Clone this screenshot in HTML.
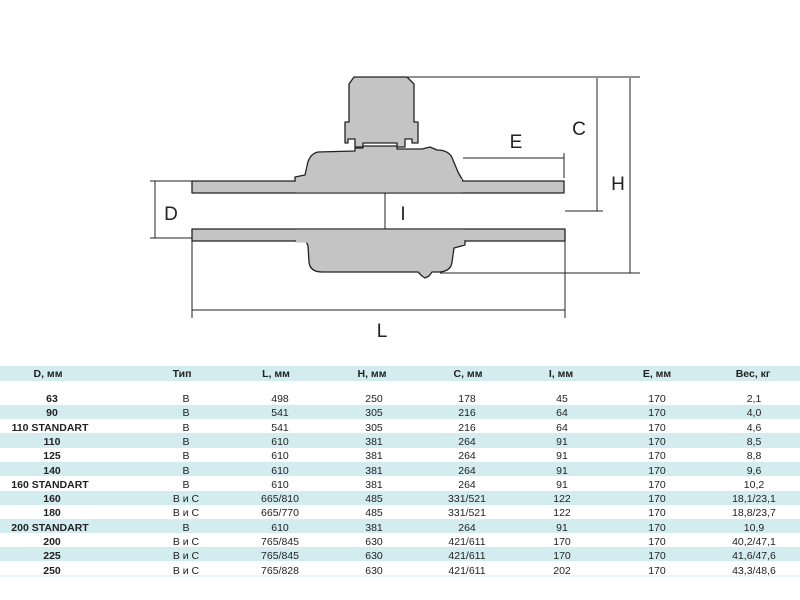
<!DOCTYPE html>
<html><head><meta charset="utf-8"><style>
html,body{margin:0;padding:0;background:#fff;width:800px;height:600px;overflow:hidden}
svg{display:block}
text{font-family:"Liberation Sans","DejaVu Sans",sans-serif}
.t{font-size:10.5px;fill:#222;text-anchor:middle}
.b{font-weight:bold}
</style></head><body>
<svg width="800" height="600" viewBox="0 0 800 600" xmlns="http://www.w3.org/2000/svg">
<g stroke="#222" stroke-width="1.3" fill="#c4c4c4" stroke-linejoin="round">
<!-- pipes -->
<rect x="192" y="181" width="372" height="12"/>
<rect x="192" y="229" width="373" height="12"/>
<!-- cap -->
<path d="M354,77 L407,77 L414,84 L414,122 L418,122 L418,143 L412,143 L412,139 L405,139 L405,147 L397,147 L397,143 L363,143 L363,147 L355,147 L355,139 L348,139 L348,143 L345,143 L345,122 L349,122 L349,84 Z"/>
<!-- upper body -->
<path d="M295,181 L295,177 L305,175 L307,166 Q309,154 318,152 L355,151 L355,148 L363,148 L363,146 L397,146 L397,149 L422,149 L430,147 L437,150 Q450,150 453,160 L458,172 L463,181"/>
<!-- lower body -->
<path d="M295,241 L306,241 L308,246 L309,262 Q310,272 322,272 L418,272 L422,276 L425,278 L429,276 L432,272 L440,272 Q451,271 452,262 L454,248 L465,245 L465,241"/>
</g>
<!-- cover pipe outer lines inside body -->
<rect x="296" y="179" width="166" height="13.5" fill="#c4c4c4"/>
<rect x="296" y="229.6" width="168" height="13" fill="#c4c4c4"/>
<g stroke="#222" stroke-width="1" fill="none">
<line x1="155" y1="181" x2="155" y2="238"/><line x1="150" y1="181" x2="192" y2="181"/><line x1="150" y1="238" x2="192" y2="238"/>
<line x1="385" y1="193" x2="385" y2="229"/>
<line x1="463" y1="158" x2="564" y2="158"/><line x1="564" y1="153" x2="564" y2="178"/>
<line x1="408" y1="77" x2="640" y2="77"/>
<line x1="597" y1="78" x2="597" y2="211"/><line x1="565" y1="211" x2="603" y2="211"/>
<line x1="630" y1="78" x2="630" y2="273"/><line x1="440" y1="273" x2="640" y2="273"/>
<line x1="192" y1="241" x2="192" y2="318"/><line x1="565" y1="241" x2="565" y2="318"/><line x1="192" y1="310" x2="565" y2="310"/>
</g>
<g font-size="19" fill="#222" text-anchor="middle" font-family="Liberation Sans">
<text x="171" y="220">D</text><text x="403" y="220">I</text><text x="516" y="148">E</text>
<text x="579" y="135">C</text><text x="618" y="190">H</text><text x="382" y="337">L</text>
</g>
<rect x="0" y="366" width="800" height="15" fill="#d2ecef"/>
<g fill="#d2ecef">
<rect x="0" y="405" width="800" height="14"/><rect x="0" y="433" width="800" height="15"/>
<rect x="0" y="462" width="800" height="14"/><rect x="0" y="491" width="800" height="14"/>
<rect x="0" y="519" width="800" height="14"/><rect x="0" y="547" width="800" height="14"/>
</g>
<line x1="0" y1="576" x2="800" y2="576" stroke="#d2ecef" stroke-width="1"/>
<g class="t b">
<text x="48" y="377">D, мм</text><text x="182" y="377">Тип</text><text x="276" y="377">L, мм</text><text x="372" y="377">H, мм</text>
<text x="468" y="377">C, мм</text><text x="561" y="377">I, мм</text><text x="657" y="377">E, мм</text><text x="753" y="377">Вес, кг</text>
</g>
<g class="t">
<text x="52" y="402" class="b">63</text><text x="186" y="402">B</text><text x="280" y="402">498</text><text x="374" y="402">250</text><text x="467" y="402">178</text><text x="562" y="402">45</text><text x="657" y="402">170</text><text x="754" y="402">2,1</text>
<text x="52" y="416" class="b">90</text><text x="186" y="416">B</text><text x="280" y="416">541</text><text x="374" y="416">305</text><text x="467" y="416">216</text><text x="562" y="416">64</text><text x="657" y="416">170</text><text x="754" y="416">4,0</text>
<text x="50" y="431" class="b">110 STANDART</text><text x="186" y="431">B</text><text x="280" y="431">541</text><text x="374" y="431">305</text><text x="467" y="431">216</text><text x="562" y="431">64</text><text x="657" y="431">170</text><text x="754" y="431">4,6</text>
<text x="52" y="445" class="b">110</text><text x="186" y="445">B</text><text x="280" y="445">610</text><text x="374" y="445">381</text><text x="467" y="445">264</text><text x="562" y="445">91</text><text x="657" y="445">170</text><text x="754" y="445">8,5</text>
<text x="52" y="459" class="b">125</text><text x="186" y="459">B</text><text x="280" y="459">610</text><text x="374" y="459">381</text><text x="467" y="459">264</text><text x="562" y="459">91</text><text x="657" y="459">170</text><text x="754" y="459">8,8</text>
<text x="52" y="474" class="b">140</text><text x="186" y="474">B</text><text x="280" y="474">610</text><text x="374" y="474">381</text><text x="467" y="474">264</text><text x="562" y="474">91</text><text x="657" y="474">170</text><text x="754" y="474">9,6</text>
<text x="50" y="488" class="b">160 STANDART</text><text x="186" y="488">B</text><text x="280" y="488">610</text><text x="374" y="488">381</text><text x="467" y="488">264</text><text x="562" y="488">91</text><text x="657" y="488">170</text><text x="754" y="488">10,2</text>
<text x="52" y="502" class="b">160</text><text x="186" y="502">B и C</text><text x="280" y="502">665/810</text><text x="374" y="502">485</text><text x="467" y="502">331/521</text><text x="562" y="502">122</text><text x="657" y="502">170</text><text x="754" y="502">18,1/23,1</text>
<text x="52" y="516" class="b">180</text><text x="186" y="516">B и C</text><text x="280" y="516">665/770</text><text x="374" y="516">485</text><text x="467" y="516">331/521</text><text x="562" y="516">122</text><text x="657" y="516">170</text><text x="754" y="516">18,8/23,7</text>
<text x="50" y="531" class="b">200 STANDART</text><text x="186" y="531">B</text><text x="280" y="531">610</text><text x="374" y="531">381</text><text x="467" y="531">264</text><text x="562" y="531">91</text><text x="657" y="531">170</text><text x="754" y="531">10,9</text>
<text x="52" y="545" class="b">200</text><text x="186" y="545">B и C</text><text x="280" y="545">765/845</text><text x="374" y="545">630</text><text x="467" y="545">421/611</text><text x="562" y="545">170</text><text x="657" y="545">170</text><text x="754" y="545">40,2/47,1</text>
<text x="52" y="559" class="b">225</text><text x="186" y="559">B и C</text><text x="280" y="559">765/845</text><text x="374" y="559">630</text><text x="467" y="559">421/611</text><text x="562" y="559">170</text><text x="657" y="559">170</text><text x="754" y="559">41,6/47,6</text>
<text x="52" y="574" class="b">250</text><text x="186" y="574">B и C</text><text x="280" y="574">765/828</text><text x="374" y="574">630</text><text x="467" y="574">421/611</text><text x="562" y="574">202</text><text x="657" y="574">170</text><text x="754" y="574">43,3/48,6</text>
</g>
</svg>
</body></html>
